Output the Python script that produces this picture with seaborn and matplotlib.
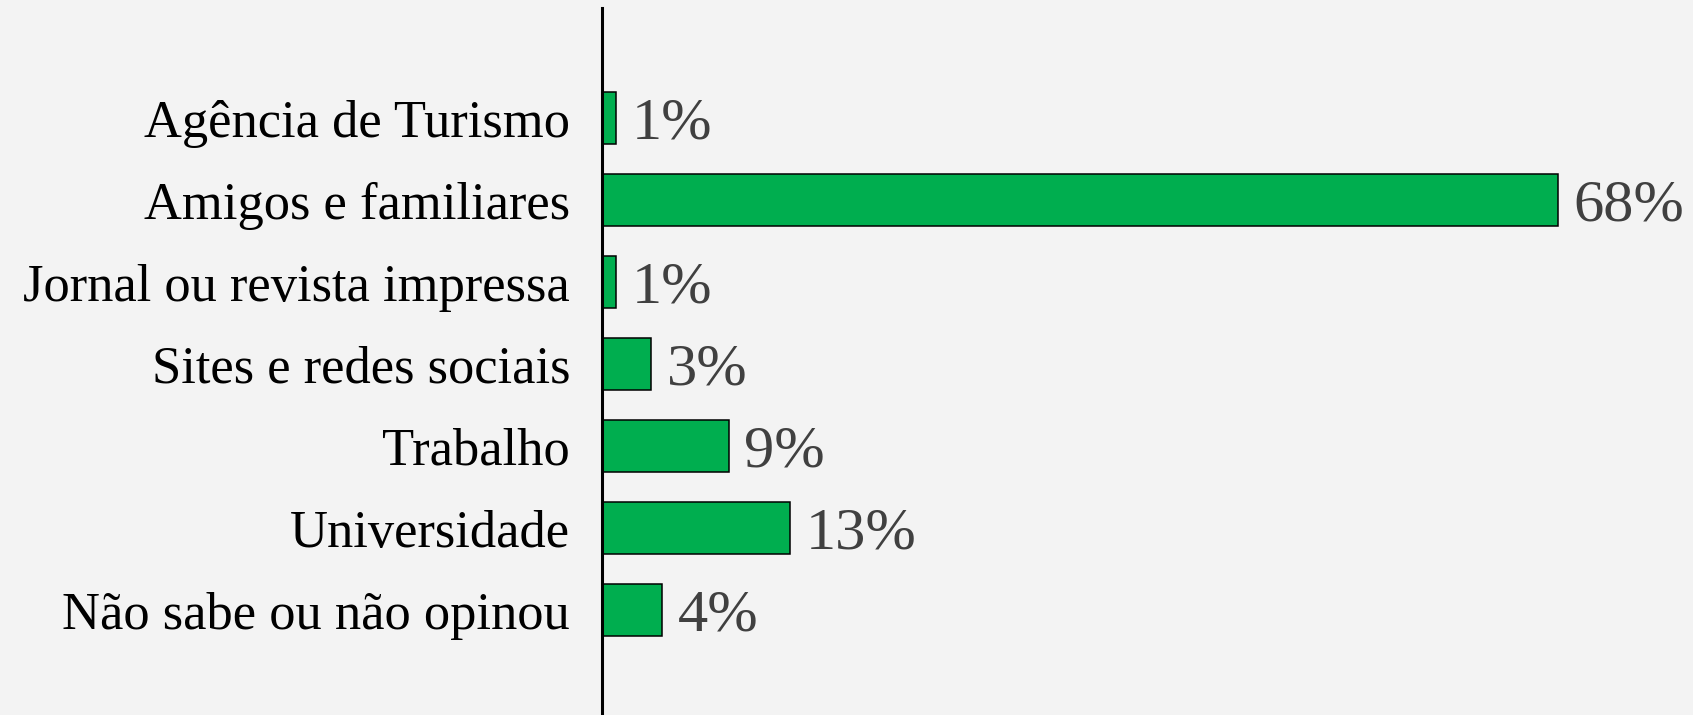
import matplotlib
matplotlib.use("Agg")
import matplotlib.pyplot as plt
import seaborn as sns
import pandas as pd

categories = ["Agência de Turismo", "Amigos e familiares", "Jornal ou revista impressa",
              "Sites e redes sociais", "Trabalho", "Universidade", "Não sabe ou não opinou"]
values = [1.0, 68.0, 1.0, 3.5, 9.0, 13.4, 4.3]
labels = ["1%", "68%", "1%", "3%", "9%", "13%", "4%"]

sns.set_theme(style="white")
plt.rcParams["font.family"] = ["Liberation Serif", "DejaVu Serif"]

bg = "#f3f3f3"
fig = plt.figure(figsize=(16.93, 7.15), dpi=100, facecolor=bg)
ax = fig.add_axes([602/1693, 0.0, 1 - 602/1693, 1 - 8/715])
ax.set_facecolor(bg)

df = pd.DataFrame({"cat": categories, "val": values})
sns.barplot(data=df, y="cat", x="val", orient="h", color="#00AE4F", saturation=1,
            width=0.634, edgecolor="black", linewidth=1.1, ax=ax)

texts = ax.bar_label(ax.containers[0], labels=labels, padding=11, fontsize=43.5, color="#404040")
for t in texts:
    t.set_verticalalignment("center_baseline")

ax.set_xlim(0, (1693 - 602) / 14.06)
ax.set_ylim(6 + 105/82, -110/82)
ax.set_xlabel("")
ax.set_ylabel("")
ax.set_xticks([])
ax.tick_params(axis="y", length=0, pad=23, labelsize=37.8, labelcolor="black")
for s in ["top", "right", "bottom"]:
    ax.spines[s].set_visible(False)
ax.spines["left"].set_color("black")
ax.spines["left"].set_linewidth(2.2)

fig.savefig("out.png", dpi=100, facecolor=bg)
